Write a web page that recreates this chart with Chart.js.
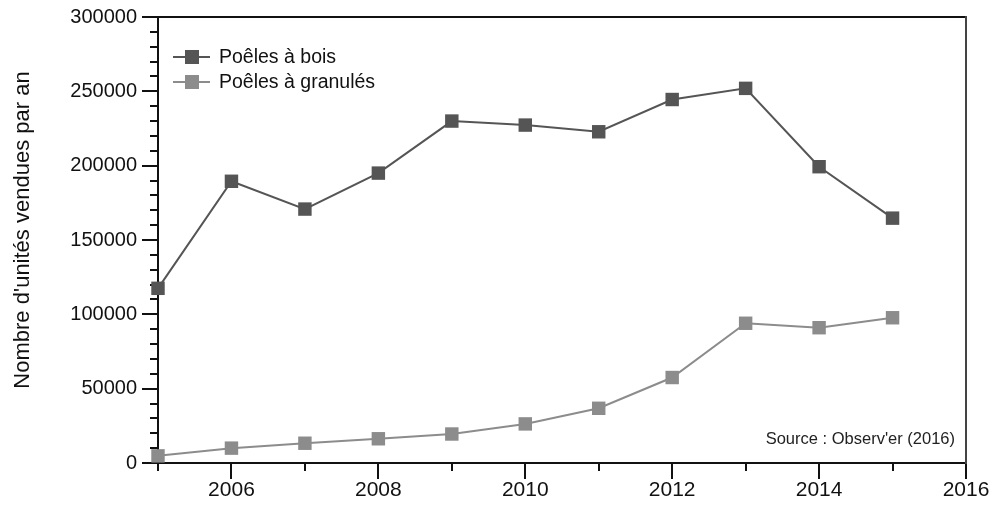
<!DOCTYPE html>
<html>
<head>
<meta charset="utf-8">
<script src="https://cdn.jsdelivr.net/npm/chart.js@4/dist/chart.umd.min.js"></script>
<style>
  html, body { margin: 0; padding: 0; background: #fff; }
  #wrap { width: 992px; height: 515px; }
</style>
</head>
<body>
<div id="wrap"><canvas id="stoves" width="992" height="515"></canvas></div>
<script>
// Data
const years = [2005, 2006, 2007, 2008, 2009, 2010, 2011, 2012, 2013, 2014, 2015];
const poelesBois = [117500, 189500, 170800, 195000, 230000, 227300, 222800, 244500, 252000, 199300, 164700];
const poelesGranules = [4800, 10000, 13300, 16300, 19500, 26300, 36800, 57500, 94000, 91000, 97700];
const seriesNames = ['Poêles à bois', 'Poêles à granulés'];
const yTicks = [0, 50000, 100000, 150000, 200000, 250000, 300000];
const xTickLabels = [2006, 2008, 2010, 2012, 2014, 2016];

const yTitle = "Nombre d'unités vendues par an";
const sourceNote = "Source : Observ'er (2016)";

const FONT = "'Liberation Sans', Arial, sans-serif";
const darkGrey = '#555555';
const lightGrey = '#8c8c8c';

function toPoints(values) {
    return years.map((yr, i) => ({ x: yr, y: values[i] }));
}

// Axes box, ticks, legend and notes drawn with the chart's own scales
const framePlugin = {
    id: 'frame',
    beforeDatasetsDraw(chart) {
        const { ctx, chartArea: a, scales: { x, y } } = chart;
        ctx.save();
        ctx.strokeStyle = '#111';
        ctx.lineWidth = 2;
        ctx.lineCap = 'square';

        // y minor + major ticks
        for (let v = y.min; v <= y.max; v += 10000) {
            const py = Math.round(y.getPixelForValue(v));
            const len = yTicks.includes(v) ? 15 : 7;
            ctx.beginPath();
            ctx.moveTo(a.left - len, py);
            ctx.lineTo(a.left, py);
            ctx.stroke();
        }
        // x minor + major ticks
        for (let yr = x.min; yr <= x.max; yr++) {
            const px = Math.round(x.getPixelForValue(yr));
            const len = xTickLabels.includes(yr) ? 15 : 7;
            ctx.beginPath();
            ctx.moveTo(px, a.bottom);
            ctx.lineTo(px, a.bottom + len);
            ctx.stroke();
        }
        // box
        ctx.beginPath();
        ctx.moveTo(a.left, a.bottom);
        ctx.lineTo(a.left, a.top);
        ctx.lineTo(a.right, a.top);
        ctx.moveTo(a.left, a.bottom);
        ctx.lineTo(a.right, a.bottom);
        ctx.stroke();
        ctx.strokeStyle = '#444';
        ctx.beginPath();
        ctx.moveTo(a.right, a.top);
        ctx.lineTo(a.right, a.bottom);
        ctx.stroke();

        // y title
        ctx.fillStyle = '#111';
        ctx.font = '22px ' + FONT;
        ctx.textAlign = 'center';
        ctx.textBaseline = 'middle';
        ctx.translate(23, 230);
        ctx.rotate(-Math.PI / 2);
        ctx.fillText(yTitle, 0, 0);
        ctx.restore();
    },
    afterDraw(chart) {
        const { ctx, chartArea: a } = chart;
        ctx.save();

        // legend, top-left inside the plot
        chart.data.datasets.forEach((ds, i) => {
            const ly = a.top + 40 + i * 25;
            ctx.strokeStyle = ds.borderColor;
            ctx.lineWidth = 2;
            ctx.beginPath();
            ctx.moveTo(a.left + 15, ly);
            ctx.lineTo(a.left + 52, ly);
            ctx.stroke();
            ctx.fillStyle = ds.pointBackgroundColor;
            ctx.fillRect(a.left + 27, ly - 7, 14, 14);
            ctx.fillStyle = '#111';
            ctx.font = '19.5px ' + FONT;
            ctx.textAlign = 'left';
            ctx.textBaseline = 'middle';
            ctx.fillText(ds.label, a.left + 61, ly + 1);
        });

        // source note
        ctx.fillStyle = '#222';
        ctx.font = '16.5px ' + FONT;
        ctx.textAlign = 'right';
        ctx.textBaseline = 'middle';
        ctx.fillText(sourceNote, a.right - 11, a.bottom - 24);
        ctx.restore();
    }
};

const ctx = document.getElementById('stoves').getContext('2d');

new Chart(ctx, {
    type: 'line',
    data: {
        datasets: [
            {
                label: seriesNames[0],
                data: toPoints(poelesBois),
                borderColor: darkGrey,
                backgroundColor: darkGrey,
                pointBackgroundColor: darkGrey,
                borderWidth: 2,
                pointStyle: 'rect',
                pointRadius: 9.5,
                pointBorderWidth: 0,
                clip: false
            },
            {
                label: seriesNames[1],
                data: toPoints(poelesGranules),
                borderColor: lightGrey,
                backgroundColor: lightGrey,
                pointBackgroundColor: lightGrey,
                borderWidth: 2,
                pointStyle: 'rect',
                pointRadius: 9.5,
                pointBorderWidth: 0,
                clip: false
            }
        ]
    },
    options: {
        responsive: false,
        animation: false,
        layout: { padding: { left: 0, top: 17, right: 26, bottom: 0 } },
        plugins: {
            legend: { display: false },
            tooltip: { enabled: false }
        },
        scales: {
            x: {
                type: 'linear',
                min: 2005,
                max: 2016,
                grid: { display: false, drawTicks: false },
                border: { display: false },
                afterFit(scale) {
                    scale.height = 52;
                    scale.paddingLeft = 0;
                    scale.paddingRight = 0;
                },
                ticks: {
                    stepSize: 1,
                    autoSkip: false,
                    maxRotation: 0,
                    padding: 15,
                    color: '#111',
                    font: { family: FONT, size: 21 },
                    callback: (v) => xTickLabels.includes(v) ? String(v) : ''
                }
            },
            y: {
                min: 0,
                max: 300000,
                grid: { display: false, drawTicks: false },
                border: { display: false },
                afterFit(scale) {
                    scale.width = 158;
                    scale.paddingTop = 0;
                    scale.paddingBottom = 0;
                },
                ticks: {
                    stepSize: 50000,
                    padding: 21,
                    color: '#111',
                    font: { family: FONT, size: 20 },
                    callback: (v) => yTicks.includes(v) ? String(v) : ''
                }
            }
        }
    },
    plugins: [framePlugin]
});
</script>
</body>
</html>
